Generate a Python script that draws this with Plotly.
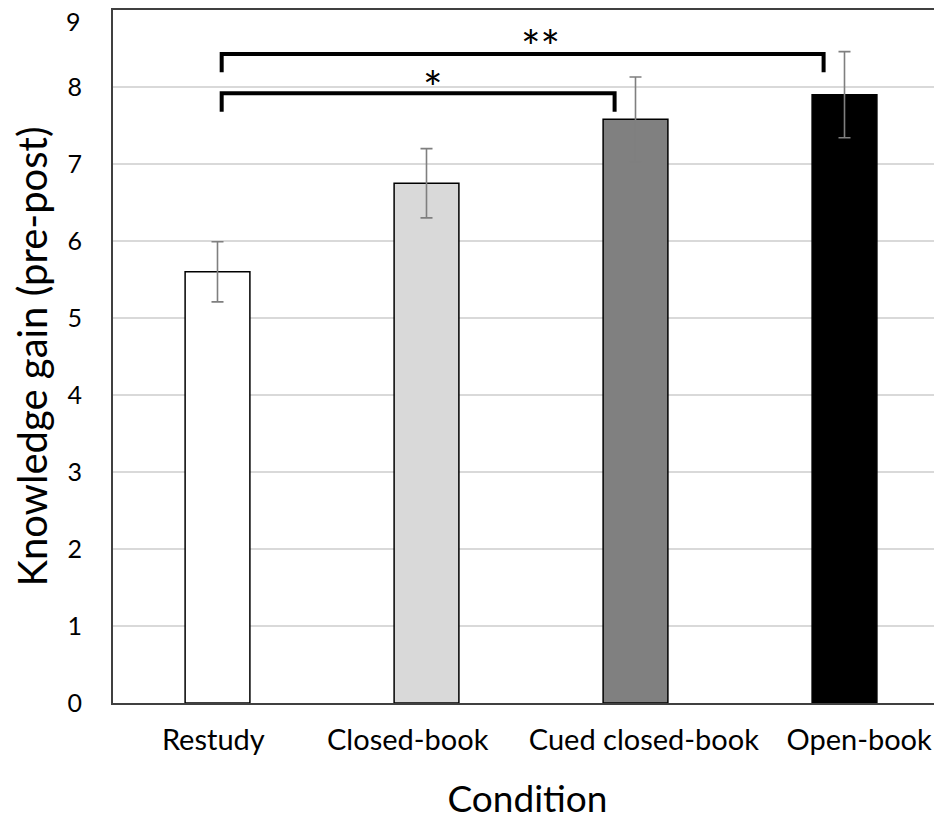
import plotly.graph_objects as go

categories = ["Restudy", "Closed-book", "Cued closed-book", "Open-book"]
means = [5.60, 6.75, 7.58, 7.90]
errors = [0.39, 0.45, 0.55, 0.56]
bar_colors = ["#ffffff", "#d9d9d9", "#808080", "#000000"]
y_ticks = [0, 1, 2, 3, 4, 5, 6, 7, 8, 9]
# category label centres as they sit in the original (slightly off the bars)
label_pos = [-0.02, 0.91, 2.04, 3.07]

# significance brackets (x in category units, y in data units)
bracket_x0 = [0.02, 0.02]
bracket_x1 = [1.90, 2.90]
bracket_top = [7.92, 8.43]
bracket_drop = [7.68, 8.19]
star_labels = ["*", "**"]
star_x = [1.03, 1.545]
star_y = [7.99, 8.52]

FONT = "Lato"
x_pos = list(range(len(categories)))

fig = go.Figure()
fig.add_trace(go.Bar(
    x=x_pos, y=means, width=0.31,
    marker=dict(color=bar_colors, line=dict(color="#000000", width=1.5)),
    error_y=dict(type="data", array=errors, visible=True,
                 color="#7f7f7f", thickness=1.6, width=6),
    showlegend=False,
))

for x0, x1, yt, yd in zip(bracket_x0, bracket_x1, bracket_top, bracket_drop):
    fig.add_trace(go.Scatter(
        x=[x0, x0, x1, x1], y=[yd, yt, yt, yd], mode="lines",
        line=dict(color="#000000", width=4), showlegend=False,
        hoverinfo="skip",
    ))

for lab, sx, sy in zip(star_labels, star_x, star_y):
    fig.add_annotation(x=sx, y=sy, text=lab, showarrow=False,
                       font=dict(family=FONT, size=46, color="#000000"),
                       xanchor="center", yanchor="middle")

# top tick label drawn as annotation so it is not clipped by the page edge
fig.add_annotation(x=0, xref="paper", xshift=-30, y=y_ticks[-1], yref="y",
                   yshift=-11, text=str(y_ticks[-1]), showarrow=False,
                   xanchor="right", yanchor="middle",
                   font=dict(family=FONT, size=25, color="#000000"))

fig.update_layout(
    width=934, height=812,
    margin=dict(l=105, r=0, t=2, b=117),
    plot_bgcolor="#ffffff", paper_bgcolor="#ffffff",
    font=dict(family=FONT, color="#000000"),
    bargap=0.2,
)
fig.update_xaxes(
    range=[-0.5, 3.4665], tickmode="array", tickvals=label_pos, ticktext=categories,
    tickfont=dict(size=29, family=FONT), showgrid=False, zeroline=False,
    showline=True, linecolor="#404040", linewidth=2, mirror=True, ticks="",
    title=dict(text="Condition", font=dict(size=37, family=FONT), standoff=42),
    ticklabelstandoff=10, automargin=False, ticklabeloverflow="allow",
)
fig.update_yaxes(
    range=[0, 9], tickmode="array", tickvals=y_ticks,
    ticktext=[str(v) for v in y_ticks[:-1]] + [""],
    tickfont=dict(size=25, family=FONT), showgrid=True, gridcolor="#d9d9d9",
    gridwidth=1.5, zeroline=False, showline=True, linecolor="#404040",
    linewidth=2, ticks="", ticklabelstandoff=24, automargin=False,
    ticklabeloverflow="allow",
    title=dict(text="Knowledge gain (pre-post)", font=dict(size=40, family=FONT), standoff=12),
)

fig.write_html("out.html")
